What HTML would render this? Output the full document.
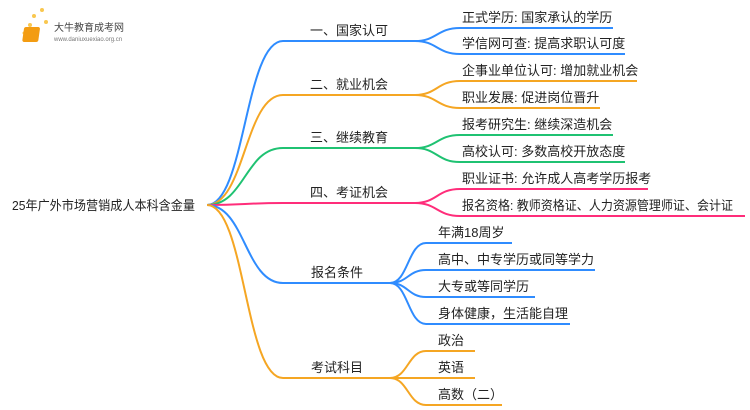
<!DOCTYPE html>
<html><head><meta charset="utf-8"><style>
body{margin:0;background:#fff;}
svg{display:block;font-family:"Liberation Sans","Noto Sans CJK SC",sans-serif;}
text{font-size:13px;fill:#222;}
</style></head><body>
<svg width="750" height="410" viewBox="0 0 750 410" xmlns="http://www.w3.org/2000/svg">
<g>
<circle cx="30" cy="25" r="2" fill="#f9c74f"/><circle cx="34" cy="16" r="2" fill="#f9c74f"/><circle cx="42" cy="10" r="2" fill="#f9c74f"/><circle cx="24" cy="33" r="1.5" fill="#f9c74f"/><circle cx="46" cy="22" r="2" fill="#f9c74f"/>
<rect x="28" y="27" width="16" height="15" rx="2" fill="#f39c12" transform="skewX(-8)"/>
<text x="54" y="31" style="font-size:10px;fill:#444">大牛教育成考网</text>
<text x="54" y="41" style="font-size:6px;fill:#777">www.daniuxuexiao.org.cn</text>
</g>
<g fill="none" stroke-width="2">
<path d="M207 205 C245 205,245 41,283 41 L415 41" stroke="#2f8cff"/>
<path d="M207 205 C245 205,245 95,283 95 L415 95" stroke="#f5a623"/>
<path d="M207 205 C245 205,245 148,283 148 L415 148" stroke="#1fc272"/>
<path d="M207 205 C245 205,245 203,283 203 L415 203" stroke="#ff2d7a"/>
<path d="M207 205 C245 205,245 283,283 283 L390 283" stroke="#2f8cff"/>
<path d="M207 205 C245 205,245 378,283 378 L390 378" stroke="#f5a623"/>
<path d="M415 41 C437 41,437 28,460 28 L613 28" stroke="#2f8cff"/>
<path d="M415 41 C437 41,437 54,460 54 L625 54" stroke="#2f8cff"/>
<path d="M415 95 C437 95,437 81,460 81 L637 81" stroke="#f5a623"/>
<path d="M415 95 C437 95,437 108,460 108 L600 108" stroke="#f5a623"/>
<path d="M415 148 C437 148,437 135,460 135 L613 135" stroke="#1fc272"/>
<path d="M415 148 C437 148,437 162,460 162 L625 162" stroke="#1fc272"/>
<path d="M415 203 C437 203,437 189,460 189 L648 189" stroke="#ff2d7a"/>
<path d="M415 203 C437 203,437 216,460 216 L745 216" stroke="#ff2d7a"/>
<path d="M390 283 C408 283,408 243,426 243 L512 243" stroke="#2f8cff"/>
<path d="M390 283 C408 283,408 270,426 270 L595 270" stroke="#2f8cff"/>
<path d="M390 283 C408 283,408 297,426 297 L535 297" stroke="#2f8cff"/>
<path d="M390 283 C408 283,408 324,426 324 L570 324" stroke="#2f8cff"/>
<path d="M390 378 C408 378,408 351,426 351 L475 351" stroke="#f5a623"/>
<path d="M390 378 C408 378,408 378,426 378 L475 378" stroke="#f5a623"/>
<path d="M390 378 C408 378,408 405,426 405 L502 405" stroke="#f5a623"/>
</g>
<text x="12" y="210" textLength="183" lengthAdjust="spacingAndGlyphs">25年广外市场营销成人本科含金量</text>
<text x="310" y="35">一、国家认可</text>
<text x="310" y="89">二、就业机会</text>
<text x="310" y="142">三、继续教育</text>
<text x="310" y="197">四、考证机会</text>
<text x="311" y="277">报名条件</text>
<text x="311" y="372">考试科目</text>
<text x="462" y="22">正式学历: 国家承认的学历</text>
<text x="462" y="48">学信网可查: 提高求职认可度</text>
<text x="462" y="75">企事业单位认可: 增加就业机会</text>
<text x="462" y="102">职业发展: 促进岗位晋升</text>
<text x="462" y="129">报考研究生: 继续深造机会</text>
<text x="462" y="156">高校认可: 多数高校开放态度</text>
<text x="462" y="183">职业证书: 允许成人高考学历报考</text>
<text x="462" y="210" textLength="271" lengthAdjust="spacingAndGlyphs">报名资格: 教师资格证、人力资源管理师证、会计证</text>
<text x="438" y="237">年满18周岁</text>
<text x="438" y="264">高中、中专学历或同等学力</text>
<text x="438" y="291">大专或等同学历</text>
<text x="438" y="318">身体健康，生活能自理</text>
<text x="438" y="345">政治</text>
<text x="438" y="372">英语</text>
<text x="438" y="399">高数（二）</text>
</svg>
</body></html>
